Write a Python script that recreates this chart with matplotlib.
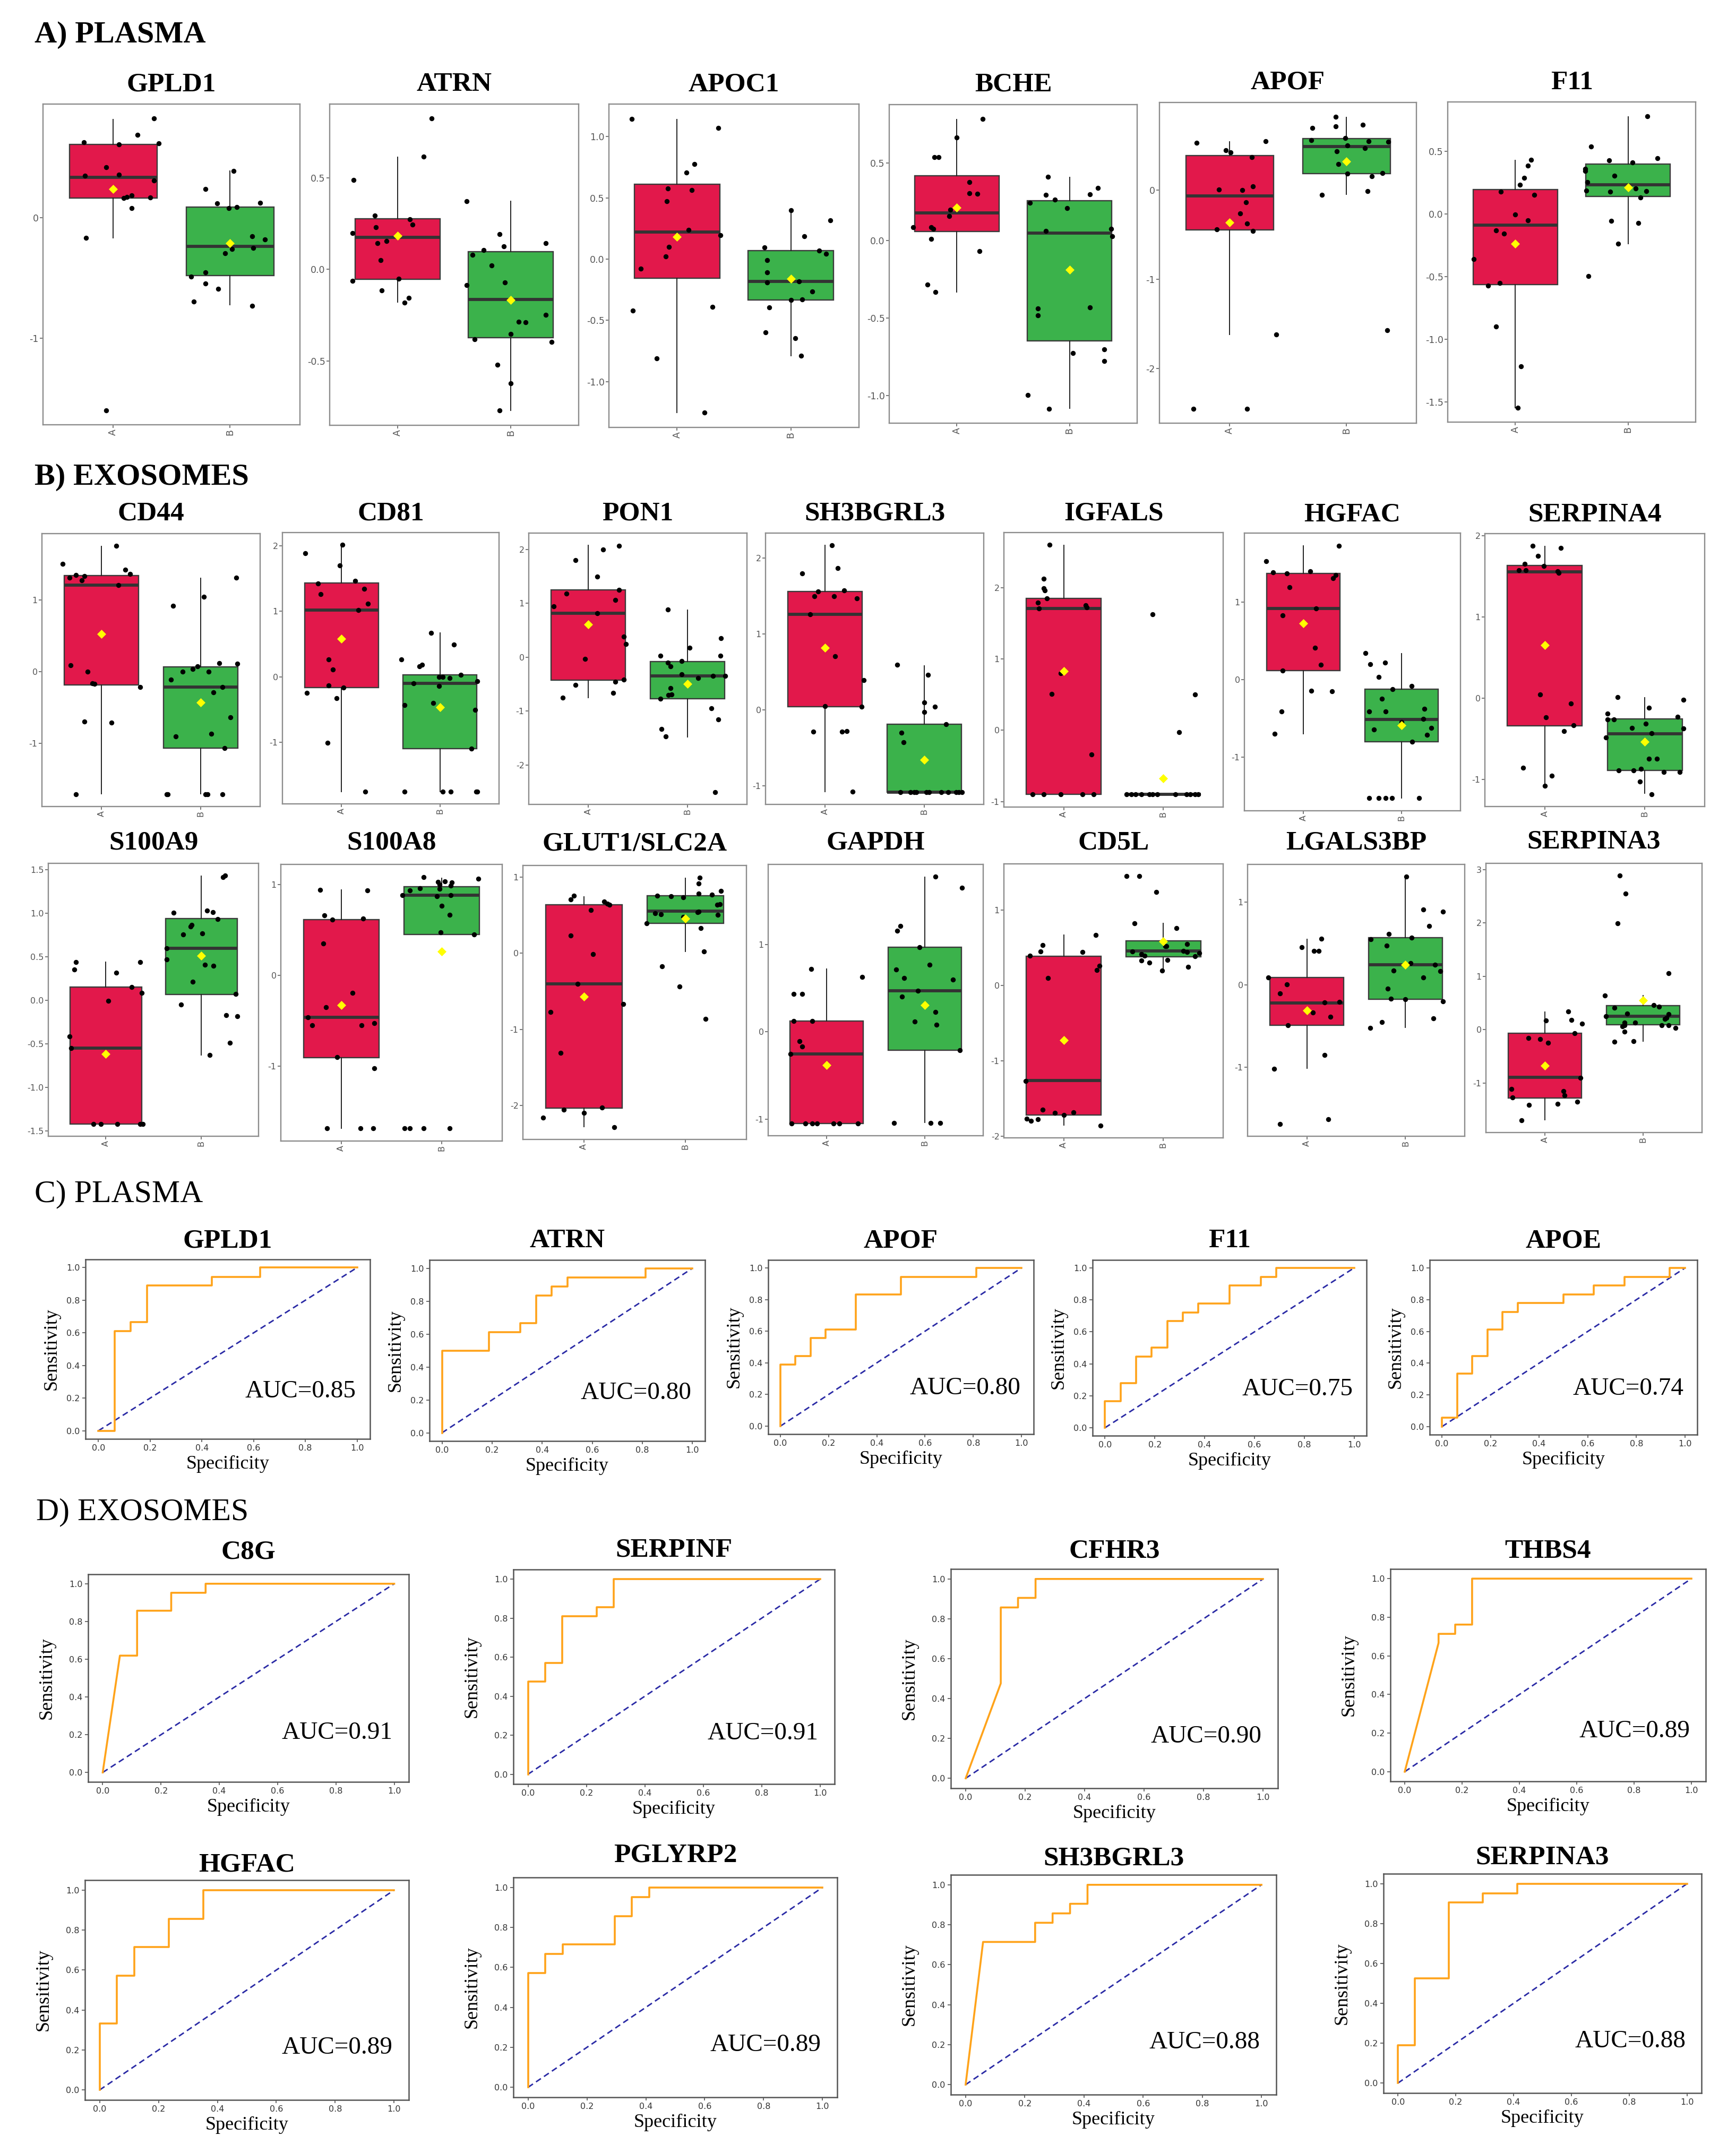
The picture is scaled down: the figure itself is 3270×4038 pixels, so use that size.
import matplotlib
matplotlib.use("Agg")
import matplotlib.pyplot as plt

W, H = 3270, 4038
RED = "#E2184B"
GREEN = "#3BB24B"
SERIF = "Liberation Serif"
SANS = "DejaVu Sans"

# ======================= DATA: box plots (jitter offset, value) =======================
# box stats order: [whisker_low, q1, median, q3, whisker_high, mean]
gpld1_a_jit = [-0.25, 0.35, 0.21, 0.05, 0.39, -0.06, -0.24, 0.05, 0.35, 0.09, 0.12, 0.16, 0.32, 0.16, -0.23, -0.06]
gpld1_a_val = [0.63, 0.825, 0.69, 0.61, 0.62, 0.42, 0.35, 0.36, 0.31, 0.165, 0.175, 0.185, 0.17, 0.08, -0.165, -1.60]
gpld1_a_box = [-0.165, 0.165, 0.335, 0.61, 0.82, 0.24]
gpld1_b_jit = [0.03, -0.21, -0.11, -0.01, 0.06, 0.26, 0.19, 0.30, 0.20, 0.02, -0.04, -0.21, -0.33, -0.21, -0.10, -0.31, 0.19]
gpld1_b_val = [0.39, 0.24, 0.12, 0.08, 0.09, 0.125, -0.155, -0.18, -0.25, -0.26, -0.295, -0.455, -0.49, -0.545, -0.59, -0.695, -0.73]
gpld1_b_box = [-0.725, -0.48, -0.237, 0.09, 0.39, -0.213]
gpld1_ticks = [-1, 0]

atrn_a_jit = [-0.39, -0.20, -0.19, -0.40, -0.18, -0.10, 0.11, 0.13, -0.15, 0.23, 0.30, -0.40, 0.01, -0.14, 0.10, 0.06]
atrn_a_val = [0.49, 0.294, 0.23, 0.20, 0.143, 0.156, 0.274, 0.245, 0.05, 0.616, 0.824, -0.063, -0.052, -0.116, -0.156, -0.182]
atrn_a_box = [-0.178, -0.055, 0.176, 0.277, 0.613, 0.184]
atrn_b_jit = [-0.39, -0.10, -0.06, -0.24, -0.34, 0.31, -0.17, -0.39, -0.05, 0.07, 0.13, 0.31, -0.32, 0.0, 0.36, -0.12, 0.0, -0.10]
atrn_b_val = [0.374, 0.192, 0.126, 0.105, 0.079, 0.143, 0.022, -0.085, -0.072, -0.286, -0.289, -0.247, -0.382, -0.354, -0.395, -0.522, -0.623, -0.770]
atrn_b_box = [-0.772, -0.374, -0.165, 0.097, 0.373, -0.167]
atrn_ticks = [-0.5, 0.0, 0.5]

apoc1_a_jit = [-0.40, 0.36, 0.15, 0.08, -0.08, 0.13, -0.09, 0.10, 0.38, -0.07, -0.10, -0.32, -0.39, 0.31, -0.18, 0.24]
apoc1_a_val = [1.145, 1.069, 0.774, 0.708, 0.575, 0.562, 0.471, 0.237, 0.195, 0.098, 0.023, -0.077, -0.421, -0.388, -0.809, -1.253]
apoc1_a_box = [-1.251, -0.154, 0.22, 0.612, 1.139, 0.183]
apoc1_b_jit = [0.0, 0.35, 0.12, -0.23, 0.25, 0.31, -0.21, -0.21, -0.21, 0.07, 0.19, 0.0, 0.10, -0.19, -0.22, 0.04, 0.09]
apoc1_b_val = [0.40, 0.317, 0.187, 0.097, 0.068, 0.044, -0.008, -0.106, -0.191, -0.18, -0.266, -0.332, -0.33, -0.394, -0.597, -0.647, -0.79]
apoc1_b_box = [-0.788, -0.332, -0.18, 0.068, 0.40, -0.16]
apoc1_ticks = [-1.0, -0.5, 0.0, 0.5, 1.0]

bche_a_jit = [0.23, 0.0, -0.20, -0.16, 0.11, 0.11, 0.18, -0.06, -0.07, -0.39, -0.23, -0.21, -0.23, 0.20, -0.26, -0.19]
bche_a_val = [0.784, 0.666, 0.54, 0.537, 0.378, 0.306, 0.302, 0.20, 0.157, 0.088, 0.087, 0.076, 0.011, -0.067, -0.284, -0.331]
bche_a_box = [-0.331, 0.058, 0.178, 0.418, 0.782, 0.213]
bche_b_jit = [-0.19, 0.25, -0.21, 0.18, -0.13, -0.35, -0.02, -0.21, 0.37, 0.38, -0.28, -0.28, 0.18, 0.03, 0.31, 0.31, -0.37, -0.18]
bche_b_val = [0.41, 0.34, 0.294, 0.297, 0.264, 0.244, 0.209, 0.063, 0.075, 0.029, -0.438, -0.482, -0.43, -0.724, -0.703, -0.776, -0.995, -1.084]
bche_b_box = [-1.082, -0.646, 0.047, 0.259, 0.409, -0.189]
bche_ticks = [-1.0, -0.5, 0.0, 0.5]

apof_a_jit = [-0.28, 0.31, -0.03, 0.01, 0.19, 0.20, -0.09, 0.11, 0.14, 0.09, 0.15, -0.11, 0.20, 0.40, -0.31, 0.15]
apof_a_val = [0.533, 0.549, 0.448, 0.422, 0.371, 0.045, 0.005, 0.0, -0.138, -0.263, -0.377, -0.44, -0.456, -1.618, -2.451, -2.451]
apof_a_box = [-1.618, -0.446, -0.064, 0.387, 0.541, -0.363]
apof_b_jit = [-0.09, -0.09, -0.29, 0.14, -0.30, -0.01, 0.19, 0.36, 0.01, 0.16, -0.08, -0.07, 0.01, 0.22, 0.31, -0.21, 0.18, 0.35]
apof_b_val = [0.82, 0.716, 0.698, 0.732, 0.562, 0.584, 0.549, 0.541, 0.499, 0.472, 0.438, 0.292, 0.183, 0.156, 0.191, -0.053, -0.013, -1.573]
apof_b_box = [-0.05, 0.183, 0.488, 0.578, 0.814, 0.321]
apof_ticks = [-2, -1, 0]

f11_a_jit = [0.14, 0.11, 0.08, 0.04, -0.13, 0.17, 0.0, 0.11, -0.17, -0.10, -0.37, -0.24, -0.14, -0.17, 0.05, 0.02]
f11_a_val = [0.432, 0.383, 0.285, 0.232, 0.177, 0.151, -0.006, -0.053, -0.134, -0.158, -0.36, -0.574, -0.553, -0.898, -1.217, -1.547]
f11_a_box = [-1.547, -0.564, -0.092, 0.192, 0.428, -0.24]
f11_b_jit = [0.17, -0.33, -0.17, 0.04, 0.26, -0.38, -0.38, -0.12, -0.36, -0.37, -0.16, 0.07, 0.16, 0.11, -0.15, 0.09, -0.09, -0.35]
f11_b_val = [0.777, 0.538, 0.426, 0.408, 0.443, 0.358, 0.34, 0.302, 0.251, 0.185, 0.175, 0.202, 0.181, 0.128, -0.055, -0.075, -0.24, -0.498]
f11_b_box = [-0.24, 0.138, 0.23, 0.396, 0.774, 0.211]
f11_ticks = [-1.5, -1.0, -0.5, 0.0, 0.5]

cd44_a_jit = [0.15, -0.39, 0.24, 0.29, -0.26, -0.17, -0.32, -0.20, 0.17, -0.31, -0.14, -0.09, -0.07, 0.39, -0.17, 0.10, -0.26]
cd44_a_val = [1.756, 1.506, 1.426, 1.369, 1.351, 1.336, 1.313, 1.277, 1.211, 0.089, 0.0, -0.164, -0.17, -0.214, -0.696, -0.714, -1.711]
cd44_a_box = [-1.708, -0.185, 1.211, 1.345, 1.75, 0.524]
cd44_b_jit = [0.36, 0.03, -0.28, 0.19, 0.37, -0.03, -0.08, -0.18, 0.08, -0.30, 0.22, 0.13, 0.30, 0.11, -0.25, 0.24, -0.34, -0.33, 0.05, 0.07, 0.22]
cd44_b_val = [1.31, 1.05, 0.923, 0.116, 0.11, 0.074, 0.039, -0.003, 0.0, -0.11, -0.217, -0.286, -0.64, -0.866, -0.905, -1.068, -1.711, -1.711, -1.711, -1.711, -1.711]
cd44_b_box = [-1.708, -1.068, -0.214, 0.068, 1.304, -0.432]
cd44_ticks = [-1, 0, 1]

cd81_a_jit = [0.01, -0.37, -0.02, 0.14, -0.24, 0.23, -0.21, 0.27, 0.17, -0.13, -0.09, -0.13, 0.02, -0.35, -0.05, -0.14, 0.24]
cd81_a_val = [2.016, 1.886, 1.70, 1.469, 1.427, 1.342, 1.264, 1.12, 1.02, 0.264, 0.111, -0.134, -0.166, -0.248, -0.332, -1.01, -1.756]
cd81_a_box = [-1.756, -0.166, 1.02, 1.436, 2.016, 0.583]
cd81_b_jit = [-0.09, 0.14, -0.39, -0.21, -0.18, 0.21, -0.01, 0.03, 0.10, 0.38, -0.27, -0.01, -0.07, -0.36, 0.36, 0.32, -0.36, 0.03, 0.11, 0.37, 0.38]
cd81_b_val = [0.671, 0.495, 0.264, 0.16, 0.182, 0.026, -0.007, -0.007, -0.02, -0.065, -0.101, -0.143, -0.404, -0.436, -0.508, -1.098, -1.756, -1.756, -1.756, -1.756, -1.756]
cd81_b_box = [-1.756, -1.098, -0.101, 0.026, 0.668, -0.469]
cd81_ticks = [-1, 0, 1, 2]

pon1_a_jit = [0.31, 0.15, -0.13, 0.09, 0.31, -0.22, 0.27, -0.35, 0.09, 0.36, 0.38, -0.03, 0.36, 0.27, -0.13, 0.25, -0.26]
pon1_a_val = [2.067, 1.996, 1.803, 1.495, 1.25, 1.176, 1.065, 0.947, 0.813, 0.379, 0.249, -0.032, -0.414, -0.458, -0.517, -0.663, -0.753]
pon1_a_box = [-0.753, -0.422, 0.813, 1.25, 2.075, 0.607]
pon1_b_jit = [-0.20, 0.34, 0.02, -0.27, 0.33, -0.06, -0.20, -0.17, -0.06, 0.26, 0.38, 0.11, -0.17, -0.16, -0.19, -0.27, 0.24, 0.31, -0.26, -0.22, 0.28]
pon1_b_val = [0.884, 0.351, 0.174, 0.028, 0.024, -0.067, -0.103, -0.17, -0.32, -0.343, -0.343, -0.387, -0.576, -0.686, -0.698, -0.765, -0.951, -1.156, -1.329, -1.471, -2.501]
pon1_b_box = [-1.479, -0.773, -0.347, -0.079, 0.872, -0.489]
pon1_ticks = [-2, -1, 0, 1, 2]

sh3_a_jit = [0.07, 0.13, -0.23, -0.07, 0.19, -0.11, 0.09, 0.32, -0.15, 0.10, 0.39, 0.0, 0.37, -0.12, 0.17, 0.22, 0.28]
sh3_a_val = [2.164, 1.862, 1.794, 1.556, 1.573, 1.491, 1.491, 1.463, 1.256, 0.704, 0.387, 0.048, 0.036, -0.286, -0.286, -0.280, -1.082]
sh3_a_box = [-1.082, 0.036, 1.256, 1.556, 2.164, 0.816]
sh3_b_jit = [-0.27, 0.04, 0.0, 0.11, 0.0, 0.22, -0.23, -0.21, -0.24, -0.14, -0.10, -0.08, 0.02, 0.05, 0.17, 0.24, 0.32, 0.35, 0.38]
sh3_b_val = [0.589, 0.46, 0.098, 0.039, -0.028, -0.193, -0.303, -0.432, -1.085, -1.085, -1.085, -1.085, -1.085, -1.085, -1.085, -1.085, -1.085, -1.085, -1.085]
sh3_b_box = [-1.085, -1.085, -1.085, -0.19, 0.58, -0.659]
sh3_ticks = [-1, 0, 1, 2]

igfals_a_jit = [-0.14, -0.20, -0.20, -0.19, -0.17, -0.26, -0.25, 0.22, 0.23, -0.03, -0.12, 0.28, -0.31, -0.20, -0.03, 0.19, 0.30]
igfals_a_val = [2.597, 2.125, 1.991, 1.958, 1.851, 1.788, 1.707, 1.752, 1.722, 0.803, 0.513, -0.337, -0.901, -0.901, -0.901, -0.901, -0.901]
igfals_a_box = [-0.901, -0.901, 1.707, 1.851, 2.594, 0.827]
igfals_b_jit = [-0.11, 0.32, 0.16, -0.37, -0.32, -0.28, -0.22, -0.14, -0.11, -0.06, 0.12, 0.23, 0.27, 0.32, 0.35]
igfals_b_val = [1.627, 0.501, -0.024, -0.901, -0.901, -0.901, -0.901, -0.901, -0.901, -0.901, -0.901, -0.901, -0.901, -0.901, -0.901]
igfals_b_box = [-0.901, -0.901, -0.901, -0.901, -0.901, -0.675]
igfals_ticks = [-1, 0, 1, 2]

hgfac_a_jit = [0.36, -0.38, -0.31, -0.17, 0.07, 0.33, 0.30, -0.14, 0.13, -0.21, 0.12, 0.18, -0.21, 0.08, 0.29, -0.22, -0.29]
hgfac_a_val = [1.73, 1.532, 1.383, 1.369, 1.397, 1.35, 1.309, 1.196, 0.92, 0.832, 0.41, 0.193, 0.116, -0.143, -0.152, -0.41, -0.697]
hgfac_a_box = [-0.697, 0.116, 0.923, 1.375, 1.727, 0.725]
hgfac_b_jit = [-0.37, -0.32, -0.17, -0.23, 0.10, -0.09, -0.20, -0.33, -0.16, 0.23, 0.22, 0.0, -0.28, 0.30, 0.26, 0.11, -0.33, -0.23, -0.16, -0.10, 0.18]
hgfac_b_val = [0.342, 0.201, 0.22, 0.033, -0.083, -0.124, -0.248, -0.41, -0.413, -0.377, -0.507, -0.545, -0.642, -0.625, -0.711, -0.799, -1.529, -1.529, -1.529, -1.529, -1.529]
hgfac_b_box = [-1.529, -0.799, -0.51, -0.124, 0.336, -0.587]
hgfac_ticks = [-1, 0, 1]

serpa4_a_jit = [-0.12, 0.16, -0.07, -0.20, -0.01, -0.26, -0.19, 0.13, 0.14, -0.05, 0.26, 0.01, 0.29, 0.19, -0.22, 0.07, 0.0]
serpa4_a_val = [1.874, 1.851, 1.754, 1.652, 1.631, 1.573, 1.573, 1.56, 1.545, 0.047, -0.063, -0.233, -0.332, -0.403, -0.851, -0.955, -1.073]
serpa4_a_box = [-1.073, -0.338, 1.558, 1.636, 1.872, 0.654]
serpa4_b_jit = [-0.27, 0.39, 0.04, -0.37, -0.37, -0.31, 0.33, 0.01, -0.13, 0.39, -0.39, 0.07, 0.04, 0.12, -0.26, -0.11, -0.04, 0.19, 0.35, -0.05, 0.07]
serpa4_b_val = [0.013, -0.018, -0.118, -0.188, -0.257, -0.257, -0.23, -0.314, -0.364, -0.372, -0.479, -0.429, -0.741, -0.741, -0.885, -0.885, -0.864, -0.903, -0.908, -1.026, -1.178]
serpa4_b_box = [-1.17, -0.885, -0.435, -0.254, 0.008, -0.534]
serpa4_ticks = [-1, 0, 1, 2]

s100a9_a_jit = [-0.31, -0.33, 0.36, 0.11, 0.27, 0.38, 0.03, -0.38, -0.36, -0.13, -0.05, 0.12, 0.36, 0.39]
s100a9_a_val = [0.438, 0.351, 0.438, 0.313, 0.149, 0.082, -0.005, -0.416, -0.553, -1.421, -1.421, -1.421, -1.421, -1.421]
s100a9_a_box = [-1.421, -1.421, -0.548, 0.149, 0.4375, -0.62]
s100a9_b_jit = [0.25, 0.23, -0.29, 0.06, 0.12, 0.17, -0.10, -0.11, 0.01, -0.19, -0.36, -0.36, 0.04, 0.13, -0.09, 0.36, -0.21, 0.26, 0.38, 0.30, 0.09]
s100a9_b_val = [1.43, 1.413, 1.007, 1.029, 1.014, 0.93, 0.863, 0.846, 0.767, 0.755, 0.599, 0.469, 0.409, 0.397, 0.212, 0.072, -0.053, -0.171, -0.1875, -0.488, -0.627]
s100a9_b_box = [-0.627, 0.067, 0.599, 0.9375, 1.425, 0.51]
s100a9_ticks = [-1.5, -1.0, -0.5, 0.0, 0.5, 1.0, 1.5]

s100a8_a_jit = [-0.21, 0.26, -0.17, -0.09, 0.22, -0.18, 0.11, -0.15, -0.33, -0.29, 0.20, 0.33, -0.04, 0.33, -0.14, 0.19, 0.32]
s100a8_a_val = [0.942, 0.933, 0.659, 0.611, 0.624, 0.35, -0.194, -0.35, -0.461, -0.546, -0.546, -0.525, -0.901, -1.023, -1.684, -1.684, -1.684]
s100a8_a_box = [-1.684, -0.903, -0.461, 0.611, 0.942, -0.325]
s100a8_b_jit = [-0.18, 0.36, -0.04, 0.03, 0.10, -0.02, 0.09, -0.22, -0.32, -0.02, -0.39, -0.05, 0.09, 0.0, 0.08, -0.01, 0.32, -0.37, -0.32, -0.18, 0.08]
s100a8_b_val = [1.083, 1.065, 1.028, 1.037, 1.023, 1.0, 0.988, 0.961, 0.938, 0.954, 0.885, 0.873, 0.885, 0.763, 0.668, 0.472, 0.452, -1.684, -1.684, -1.684, -1.684]
s100a8_b_box = [0.452, 0.452, 0.885, 0.977, 1.069, 0.263]
s100a8_ticks = [-1, 0, 1]

glut1_a_jit = [-0.10, -0.13, 0.20, 0.23, 0.25, 0.07, -0.13, 0.09, -0.06, 0.39, -0.33, -0.23, 0.18, -0.20, 0.0, -0.40, 0.30]
glut1_a_val = [0.755, 0.705, 0.680, 0.653, 0.639, 0.570, 0.231, -0.011, -0.40, -0.667, -0.774, -1.306, -2.028, -2.055, -2.099, -2.16, -2.281]
glut1_a_box = [-2.275, -2.033, -0.40, 0.636, 0.741, -0.567]
glut1_b_jit = [0.14, 0.13, 0.35, -0.28, -0.14, -0.02, 0.13, 0.26, 0.31, 0.34, 0.13, -0.30, -0.24, 0.32, -0.02, 0.12, -0.38, 0.15, 0.18, -0.23, -0.06, 0.20]
glut1_b_val = [0.989, 0.915, 0.815, 0.755, 0.747, 0.733, 0.78, 0.771, 0.636, 0.645, 0.548, 0.523, 0.51, 0.507, 0.479, 0.54, 0.391, 0.328, 0.025, -0.171, -0.435, -0.86]
glut1_b_box = [0.025, 0.391, 0.551, 0.755, 0.986, 0.457]
glut1_ticks = [-2, -1, 0, 1]

gapdh_a_jit = [-0.16, 0.36, -0.34, -0.25, -0.34, -0.15, -0.28, -0.25, -0.37, -0.36, -0.22, -0.15, -0.10, 0.07, 0.13, 0.32]
gapdh_a_val = [0.718, 0.627, 0.433, 0.433, 0.122, 0.122, -0.108, -0.167, -0.256, -1.048, -1.048, -1.048, -1.048, -1.048, -1.048, -1.048]
gapdh_a_box = [-1.048, -1.048, -0.256, 0.122, 0.718, -0.378]
gapdh_b_jit = [0.11, 0.38, -0.25, -0.28, -0.05, 0.05, -0.29, -0.21, 0.29, -0.07, -0.23, 0.11, -0.10, 0.12, 0.36, -0.31, 0.06, 0.16]
gapdh_b_val = [1.775, 1.646, 1.213, 1.156, 0.969, 0.77, 0.713, 0.617, 0.596, 0.467, 0.40, 0.227, 0.115, 0.079, -0.211, -1.045, -1.045, -1.045]
gapdh_b_box = [-1.04, -0.211, 0.467, 0.969, 1.77, 0.304]
gapdh_ticks = [-1, 0, 1]

cd5l_a_jit = [0.32, -0.21, -0.23, 0.19, -0.34, 0.36, 0.33, -0.16, -0.38, -0.21, -0.09, 0.10, 0.0, -0.37, -0.33, -0.26, 0.37]
cd5l_a_val = [0.669, 0.538, 0.451, 0.44, 0.396, 0.259, 0.206, 0.10, -1.267, -1.652, -1.694, -1.688, -1.719, -1.769, -1.797, -1.78, -1.858]
cd5l_a_box = [-1.852, -1.719, -1.262, 0.39, 0.669, -0.724]
cd5l_b_jit = [-0.37, -0.24, -0.07, -0.29, 0.13, 0.24, 0.03, 0.02, -0.31, 0.20, 0.24, -0.22, -0.19, 0.36, 0.32, -0.22, -0.14, 0.04, 0.25, -0.01]
cd5l_b_val = [1.448, 1.448, 1.24, 0.827, 0.758, 0.549, 0.524, 0.521, 0.451, 0.457, 0.446, 0.418, 0.393, 0.426, 0.39, 0.329, 0.304, 0.34, 0.245, 0.20]
cd5l_b_box = [0.209, 0.382, 0.46, 0.591, 0.822, 0.585]
cd5l_ticks = [-2, -1, 0, 1]

lgals_a_jit = [0.15, -0.05, 0.07, 0.12, -0.39, -0.20, -0.27, 0.18, 0.33, 0.06, 0.24, -0.19, 0.18, -0.33, 0.22, -0.27]
lgals_a_val = [0.561, 0.457, 0.414, 0.414, 0.089, 0.005, -0.107, -0.216, -0.208, -0.338, -0.388, -0.49, -0.85, -1.015, -1.632, -1.685]
lgals_a_box = [-1.01, -0.49, -0.221, 0.089, 0.553, -0.312]
lgals_b_jit = [0.01, 0.18, 0.38, 0.24, -0.17, -0.35, 0.06, -0.19, 0.05, 0.30, -0.12, 0.35, 0.18, -0.18, -0.15, 0.0, 0.38, 0.28, -0.24, -0.36]
lgals_b_val = [1.31, 0.916, 0.886, 0.716, 0.617, 0.551, 0.571, 0.477, 0.266, 0.244, 0.17, 0.165, 0.091, -0.046, -0.17, -0.173, -0.20, -0.409, -0.449, -0.525]
lgals_b_box = [-0.515, -0.173, 0.246, 0.571, 1.31, 0.246]
lgals_ticks = [-1, 0, 1]

serpa3_a_jit = [0.24, 0.01, 0.27, 0.38, 0.30, -0.17, -0.05, 0.03, 0.36, -0.34, 0.19, 0.20, -0.33, -0.16, 0.13, 0.33, -0.24]
serpa3_a_val = [0.339, 0.17, 0.181, 0.114, -0.067, -0.158, -0.174, -0.252, -0.903, -1.116, -1.148, -1.231, -1.274, -1.408, -1.393, -1.353, -1.70]
serpa3_a_box = [-1.692, -1.282, -0.895, -0.067, 0.327, -0.675]
serpa3_b_jit = [-0.24, -0.18, -0.26, 0.26, -0.39, -0.29, 0.11, 0.16, -0.16, -0.38, 0.26, 0.24, 0.22, -0.19, -0.08, -0.19, 0.19, 0.26, 0.33, -0.21, -0.19, -0.29, -0.10]
serpa3_b_val = [2.888, 2.552, 1.992, 1.061, 0.643, 0.406, 0.458, 0.426, 0.296, 0.252, 0.292, 0.221, 0.201, 0.134, 0.134, 0.083, 0.083, 0.083, 0.032, 0.063, -0.036, -0.229, -0.213]
serpa3_b_box = [-0.217, 0.091, 0.252, 0.45, 0.635, 0.548]
serpa3_ticks = [-1, 0, 1, 2, 3]

# ======================= DATA: ROC curves (x = 1 - specificity axis, y = sensitivity) =======================
CHANCE = [0.0, 1.0]
roc_gpld1_x = [0, 0.0625, 0.0625, 0.125, 0.125, 0.1875, 0.1875, 0.4375, 0.4375, 0.625, 0.625, 1.0]
roc_gpld1_y = [0, 0, 0.611, 0.611, 0.667, 0.667, 0.889, 0.889, 0.944, 0.944, 1.0, 1.0]
roc_atrn_x = [0, 0, 0.1875, 0.1875, 0.3125, 0.3125, 0.375, 0.375, 0.4375, 0.4375, 0.5, 0.5, 0.8125, 0.8125, 1.0]
roc_atrn_y = [0, 0.5, 0.5, 0.611, 0.611, 0.667, 0.667, 0.833, 0.833, 0.889, 0.889, 0.944, 0.944, 1.0, 1.0]
roc_apof_x = [0, 0, 0.0625, 0.0625, 0.125, 0.125, 0.1875, 0.1875, 0.3125, 0.3125, 0.5, 0.5, 0.8125, 0.8125, 1.0]
roc_apof_y = [0, 0.389, 0.389, 0.444, 0.444, 0.556, 0.556, 0.611, 0.611, 0.833, 0.833, 0.944, 0.944, 1.0, 1.0]
roc_f11_x = [0, 0, 0.0625, 0.0625, 0.125, 0.125, 0.1875, 0.1875, 0.25, 0.25, 0.3125, 0.3125, 0.375, 0.375, 0.5, 0.5, 0.625, 0.625, 0.6875, 0.6875, 1.0]
roc_f11_y = [0, 0.167, 0.167, 0.278, 0.278, 0.444, 0.444, 0.5, 0.5, 0.667, 0.667, 0.722, 0.722, 0.778, 0.778, 0.889, 0.889, 0.944, 0.944, 1.0, 1.0]
roc_apoe_x = [0, 0, 0.0625, 0.0625, 0.125, 0.125, 0.1875, 0.1875, 0.25, 0.25, 0.3125, 0.3125, 0.5, 0.5, 0.625, 0.625, 0.75, 0.75, 0.9375, 0.9375, 1.0]
roc_apoe_y = [0, 0.056, 0.056, 0.333, 0.333, 0.444, 0.444, 0.611, 0.611, 0.722, 0.722, 0.778, 0.778, 0.833, 0.833, 0.889, 0.889, 0.944, 0.944, 1.0, 1.0]

roc_c8g_x = [0, 0.059, 0.118, 0.118, 0.235, 0.235, 0.353, 0.353, 1.0]
roc_c8g_y = [0, 0.619, 0.619, 0.857, 0.857, 0.952, 0.952, 1.0, 1.0]
roc_serpinf_x = [0, 0, 0.059, 0.059, 0.118, 0.118, 0.235, 0.235, 0.294, 0.294, 1.0]
roc_serpinf_y = [0, 0.476, 0.476, 0.571, 0.571, 0.810, 0.810, 0.857, 0.857, 1.0, 1.0]
roc_cfhr3_x = [0, 0.118, 0.118, 0.176, 0.176, 0.235, 0.235, 1.0]
roc_cfhr3_y = [0, 0.476, 0.857, 0.857, 0.905, 0.905, 1.0, 1.0]
roc_thbs4_x = [0, 0.118, 0.118, 0.176, 0.176, 0.235, 0.235, 1.0]
roc_thbs4_y = [0, 0.667, 0.714, 0.714, 0.762, 0.762, 1.0, 1.0]
roc_hgfac_x = [0, 0, 0.059, 0.059, 0.118, 0.118, 0.235, 0.235, 0.353, 0.353, 1.0]
roc_hgfac_y = [0, 0.333, 0.333, 0.571, 0.571, 0.714, 0.714, 0.857, 0.857, 1.0, 1.0]
roc_pglyrp2_x = [0, 0, 0.059, 0.059, 0.118, 0.118, 0.294, 0.294, 0.353, 0.353, 0.412, 0.412, 1.0]
roc_pglyrp2_y = [0, 0.571, 0.571, 0.667, 0.667, 0.714, 0.714, 0.857, 0.857, 0.952, 0.952, 1.0, 1.0]
roc_sh3_x = [0, 0.059, 0.235, 0.235, 0.294, 0.294, 0.353, 0.353, 0.412, 0.412, 1.0]
roc_sh3_y = [0, 0.714, 0.714, 0.810, 0.810, 0.857, 0.857, 0.905, 0.905, 1.0, 1.0]
roc_serpa3_x = [0, 0, 0.059, 0.059, 0.176, 0.176, 0.294, 0.294, 0.412, 0.412, 1.0]
roc_serpa3_y = [0, 0.190, 0.190, 0.524, 0.524, 0.905, 0.905, 0.952, 0.952, 1.0, 1.0]

auc_c = [0.85, 0.80, 0.80, 0.75, 0.74]
auc_d = [0.91, 0.91, 0.90, 0.89, 0.89, 0.89, 0.88, 0.88]

# ======================= FIGURE =======================
fig = plt.figure(figsize=(W / 100, H / 100), dpi=100)


def rect(b):
    x0, y0, x1, y1 = b
    return [x0 / W, 1 - y1 / H, (x1 - x0) / W, (y1 - y0) / H]


def title(b, text, baseline, size=37, weight="bold"):
    fig.text((b[0] + b[2]) / 2 / W, 1 - baseline / H, text, ha="center", va="baseline",
             fontsize=size, fontweight=weight, family=SERIF)


def fmt_tick(t):
    if all(float(v).is_integer() for v in [t]) and isinstance(t, int):
        s = "%d" % t
    else:
        s = "%.1f" % t
    return s.replace("\u2212", "-")


def box_panel(b, name, baseline, a_jit, a_val, a_box, b_jit, b_val, b_box, ticks, tsize=12.5):
    ax = fig.add_axes(rect(b))
    stats = []
    for s in (a_box, b_box):
        stats.append(dict(whislo=s[0], q1=s[1], med=s[2], q3=s[3], whishi=s[4], fliers=[]))
    bp = ax.bxp(stats, positions=[1, 2], widths=0.75, patch_artist=True, showcaps=False,
                showfliers=False,
                boxprops=dict(edgecolor="#3a3a3a", linewidth=1.7),
                medianprops=dict(color="#333333", linewidth=4.2, solid_capstyle="butt"),
                whiskerprops=dict(color="#222222", linewidth=1.4))
    for patch, c in zip(bp["boxes"], (RED, GREEN)):
        patch.set_facecolor(c)
    for pos, jit, val in ((1, a_jit, a_val), (2, b_jit, b_val)):
        ax.scatter([pos + j for j in jit], val, s=46, color="black", zorder=3, linewidths=0)
    ax.scatter([1, 2], [a_box[5], b_box[5]], marker="D", s=75, color="#FFFF00", zorder=4,
               linewidths=0)
    allv = a_val + b_val + a_box[:5] + b_box[:5]
    lo, hi = min(allv), max(allv)
    pad = 0.05 * (hi - lo)
    ax.set_ylim(lo - pad, hi + pad)
    ax.set_xlim(0.4, 2.6)
    ax.set_yticks(ticks)
    ax.set_yticklabels([fmt_tick(t) for t in ticks])
    ax.set_xticks([1, 2])
    ax.set_xticklabels(["A", "B"], rotation=90)
    ax.tick_params(length=4, width=1.1, color="#555555", labelcolor="#555555",
                   labelsize=tsize, pad=2)
    for lab in ax.get_xticklabels() + ax.get_yticklabels():
        lab.set_family(SANS)
    for sp in ax.spines.values():
        sp.set_color("#8c8c8c")
        sp.set_linewidth(1.7)
    title(b, name, baseline)
    return ax


def roc_panel(b, name, baseline, fx, ty, auc, ylpad, auc_y=0.24):
    ax = fig.add_axes(rect(b))
    ax.plot(fx, ty, color="#FFA31A", lw=2.6, zorder=3)
    ax.plot(CHANCE, CHANCE, color="#2a2aa5", lw=2.0, ls=(0, (4, 2.5)), zorder=2)
    ax.set_xticks([0, 0.2, 0.4, 0.6, 0.8, 1.0])
    ax.set_yticks([0, 0.2, 0.4, 0.6, 0.8, 1.0])
    ax.tick_params(labelsize=11.5, labelcolor="#333333", color="#444444", width=1.1, length=4)
    ax.set_xlabel("Specificity", family=SERIF, fontsize=26, labelpad=4)
    ax.set_ylabel("Sensitivity", family=SERIF, fontsize=26, labelpad=ylpad)
    ax.text(0.995, auc_y, "AUC=%.2f" % auc, ha="right", va="center", fontsize=34, family=SERIF,
            transform=ax.transData)
    for sp in ax.spines.values():
        sp.set_color("#555555")
        sp.set_linewidth(1.8)
    title(b, name, baseline)
    return ax


# section headers
fig.text(65 / W, 1 - 80 / H, "A) PLASMA", fontsize=42, fontweight="bold", family=SERIF, va="baseline")
fig.text(65 / W, 1 - 913 / H, "B) EXOSOMES", fontsize=42, fontweight="bold", family=SERIF, va="baseline")
fig.text(65 / W, 1 - 2263 / H, "C) PLASMA", fontsize=43, family=SERIF, va="baseline")
fig.text(68 / W, 1 - 2862 / H, "D) EXOSOMES", fontsize=43, family=SERIF, va="baseline")

# Row A
box_panel([81, 196, 565, 800], "GPLD1", 171, gpld1_a_jit, gpld1_a_val, gpld1_a_box,
          gpld1_b_jit, gpld1_b_val, gpld1_b_box, gpld1_ticks)
box_panel([621, 196, 1090, 801], "ATRN", 171, atrn_a_jit, atrn_a_val, atrn_a_box,
          atrn_b_jit, atrn_b_val, atrn_b_box, atrn_ticks)
box_panel([1147, 196, 1618, 805], "APOC1", 171, apoc1_a_jit, apoc1_a_val, apoc1_a_box,
          apoc1_b_jit, apoc1_b_val, apoc1_b_box, apoc1_ticks)
box_panel([1675, 197, 2142, 797], "BCHE", 171, bche_a_jit, bche_a_val, bche_a_box,
          bche_b_jit, bche_b_val, bche_b_box, bche_ticks)
box_panel([2184, 193, 2668, 797], "APOF", 168, apof_a_jit, apof_a_val, apof_a_box,
          apof_b_jit, apof_b_val, apof_b_box, apof_ticks)
box_panel([2727, 192, 3194, 795], "F11", 168, f11_a_jit, f11_a_val, f11_a_box,
          f11_b_jit, f11_b_val, f11_b_box, f11_ticks)

# Row B1
T = 11.5
box_panel([79, 1005, 490, 1519], "CD44", 979, cd44_a_jit, cd44_a_val, cd44_a_box,
          cd44_b_jit, cd44_b_val, cd44_b_box, cd44_ticks, T)
box_panel([532, 1003, 940, 1514], "CD81", 979, cd81_a_jit, cd81_a_val, cd81_a_box,
          cd81_b_jit, cd81_b_val, cd81_b_box, cd81_ticks, T)
box_panel([996, 1004, 1407, 1515], "PON1", 979, pon1_a_jit, pon1_a_val, pon1_a_box,
          pon1_b_jit, pon1_b_val, pon1_b_box, pon1_ticks, T)
box_panel([1442, 1004, 1853, 1515], "SH3BGRL3", 979, sh3_a_jit, sh3_a_val, sh3_a_box,
          sh3_b_jit, sh3_b_val, sh3_b_box, sh3_ticks, T)
box_panel([1891, 1003, 2304, 1520], "IGFALS", 979, igfals_a_jit, igfals_a_val, igfals_a_box,
          igfals_b_jit, igfals_b_val, igfals_b_box, igfals_ticks, T)
box_panel([2344, 1004, 2751, 1527], "HGFAC", 981, hgfac_a_jit, hgfac_a_val, hgfac_a_box,
          hgfac_b_jit, hgfac_b_val, hgfac_b_box, hgfac_ticks, T)
box_panel([2797, 1005, 3211, 1519], "SERPINA4", 981, serpa4_a_jit, serpa4_a_val, serpa4_a_box,
          serpa4_b_jit, serpa4_b_val, serpa4_b_box, serpa4_ticks, T)

# Row B2
box_panel([91, 1626, 487, 2140], "S100A9", 1600, s100a9_a_jit, s100a9_a_val, s100a9_a_box,
          s100a9_b_jit, s100a9_b_val, s100a9_b_box, s100a9_ticks, T)
box_panel([529, 1628, 946, 2149], "S100A8", 1600, s100a8_a_jit, s100a8_a_val, s100a8_a_box,
          s100a8_b_jit, s100a8_b_val, s100a8_b_box, s100a8_ticks, T)
box_panel([985, 1630, 1406, 2146], "GLUT1/SLC2A", 1602, glut1_a_jit, glut1_a_val, glut1_a_box,
          glut1_b_jit, glut1_b_val, glut1_b_box, glut1_ticks, T)
box_panel([1447, 1628, 1852, 2139], "GAPDH", 1600, gapdh_a_jit, gapdh_a_val, gapdh_a_box,
          gapdh_b_jit, gapdh_b_val, gapdh_b_box, gapdh_ticks, T)
box_panel([1891, 1627, 2304, 2143], "CD5L", 1600, cd5l_a_jit, cd5l_a_val, cd5l_a_box,
          cd5l_b_jit, cd5l_b_val, cd5l_b_box, cd5l_ticks, T)
box_panel([2350, 1628, 2759, 2140], "LGALS3BP", 1600, lgals_a_jit, lgals_a_val, lgals_a_box,
          lgals_b_jit, lgals_b_val, lgals_b_box, lgals_ticks, T)
box_panel([2799, 1626, 3206, 2133], "SERPINA3", 1598, serpa3_a_jit, serpa3_a_val, serpa3_a_box,
          serpa3_b_jit, serpa3_b_val, serpa3_b_box, serpa3_ticks, T)

# Row C (ROC plasma)
roc_panel([161, 2372, 697, 2710], "GPLD1", 2349, roc_gpld1_x, roc_gpld1_y, auc_c[0], 8)
roc_panel([809, 2373, 1328, 2714], "ATRN", 2349, roc_atrn_x, roc_atrn_y, auc_c[1], 8)
roc_panel([1447, 2373, 1947, 2701], "APOF", 2349, roc_apof_x, roc_apof_y, auc_c[2], 8)
roc_panel([2058, 2373, 2574, 2704], "F11", 2349, roc_f11_x, roc_f11_y, auc_c[3], 8)
roc_panel([2693, 2373, 3197, 2702], "APOE", 2349, roc_apoe_x, roc_apoe_y, auc_c[4], 8)

# Row D (ROC exosomes)
roc_panel([166, 2965, 770, 3356], "C8G", 2936, roc_c8g_x, roc_c8g_y, auc_d[0], 18, 0.21)
roc_panel([967, 2956, 1572, 3360], "SERPINF", 2932, roc_serpinf_x, roc_serpinf_y, auc_d[1], 18, 0.21)
roc_panel([1791, 2955, 2407, 3368], "CFHR3", 2934, roc_cfhr3_x, roc_cfhr3_y, auc_d[2], 18, 0.21)
roc_panel([2619, 2955, 3213, 3355], "THBS4", 2934, roc_thbs4_x, roc_thbs4_y, auc_d[3], 18, 0.21)
roc_panel([160, 3541, 770, 3955], "HGFAC", 3524, roc_hgfac_x, roc_hgfac_y, auc_d[4], 18, 0.21)
roc_panel([967, 3536, 1577, 3950], "PGLYRP2", 3506, roc_pglyrp2_x, roc_pglyrp2_y, auc_d[5], 18, 0.21)
roc_panel([1791, 3531, 2404, 3945], "SH3BGRL3", 3512, roc_sh3_x, roc_sh3_y, auc_d[6], 18, 0.21)
roc_panel([2606, 3529, 3205, 3942], "SERPINA3", 3510, roc_serpa3_x, roc_serpa3_y, auc_d[7], 18, 0.21)

fig.savefig("out.png", dpi=100)
